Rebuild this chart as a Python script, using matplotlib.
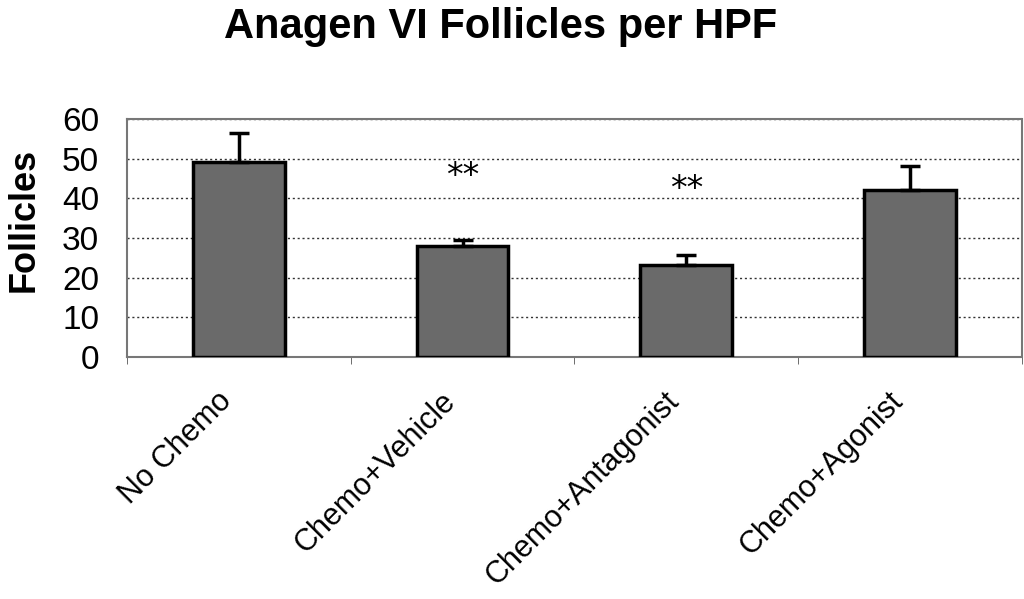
"""Anagen VI follicles per HPF - bar chart"""

import numpy as np
import matplotlib
matplotlib.use("Agg")
import matplotlib.pyplot as plt
import matplotlib.transforms as mtransforms

# Dades
grups = ["No Chemo", "Chemo+Vehicle", "Chemo+Antagonist", "Chemo+Agonist"]
mitjanes = [49.2, 28.1, 23.3, 42.2]
errors = [7.3, 1.4, 2.5, 6.0]
signif = ["", "**", "**", ""]
signif_y = [0, 45.5, 42.2, 0]

plt.rcParams["font.family"] = ["Liberation Sans", "DejaVu Sans"]

# Creació de la figura
fig = plt.figure(figsize=(10.24, 5.99), dpi=100)
ax = fig.add_axes([0.124, 0.404, 0.874, 0.397])

x = np.arange(len(grups))

# Barres amb error superior
ax.bar(x, mitjanes, width=0.41, color="#6a6a6a", edgecolor="black", linewidth=2.5, zorder=3)
ax.errorbar(x, mitjanes, yerr=[np.zeros(len(errors)), errors], fmt="none",
            ecolor="black", elinewidth=2.5, capsize=7, capthick=2.5, zorder=4)

# Asteriscs de significació
for xi, s, yi in zip(x, signif, signif_y):
    if s:
        ax.text(xi, yi, s, ha="center", va="center", fontsize=24, color="black",
                family="DejaVu Sans")

# Eixos
ax.set_xlim(-0.5, len(grups) - 0.5)
ax.set_ylim(0, 60)
ax.set_yticks(range(0, 61, 10))
ax.tick_params(axis="y", length=0, labelsize=24, pad=20)
ax.set_xticks(x)
ax.set_xticklabels(grups, rotation=45, ha="right", rotation_mode="anchor", fontsize=22)
ax.tick_params(axis="x", which="major", length=0, pad=21)
ax.set_xticks(np.arange(-0.5, len(grups), 1), minor=True)
ax.tick_params(axis="x", which="minor", length=5, color="#555555", direction="out")

# Desplaçament de les etiquetes cap a l'esquerra
despl = mtransforms.ScaledTranslation(-22 / 100, 0, fig.dpi_scale_trans)
for etiqueta in ax.get_xticklabels():
    etiqueta.set_transform(etiqueta.get_transform() + despl)

# Quadrícula i vores puntejades
ax.grid(axis="y", linestyle=(0, (1.5, 2)), color="#333333", linewidth=1, zorder=0)
for side in ["top", "right", "left", "bottom"]:
    ax.spines[side].set_linestyle((0, (1, 1)))
    ax.spines[side].set_color("#777777")
    ax.spines[side].set_linewidth(1.5)

# Títols
fig.text(0.489, 0.955, "Anagen VI Follicles per HPF", ha="center", va="center",
         fontsize=30, fontweight="bold")
ax.set_ylabel("Follicles", fontsize=26, fontweight="bold")
ax.yaxis.set_label_coords(-0.095, 0.575)

# Desat com a imatge
fig.savefig("out.png", dpi=100)
plt.close(fig)
